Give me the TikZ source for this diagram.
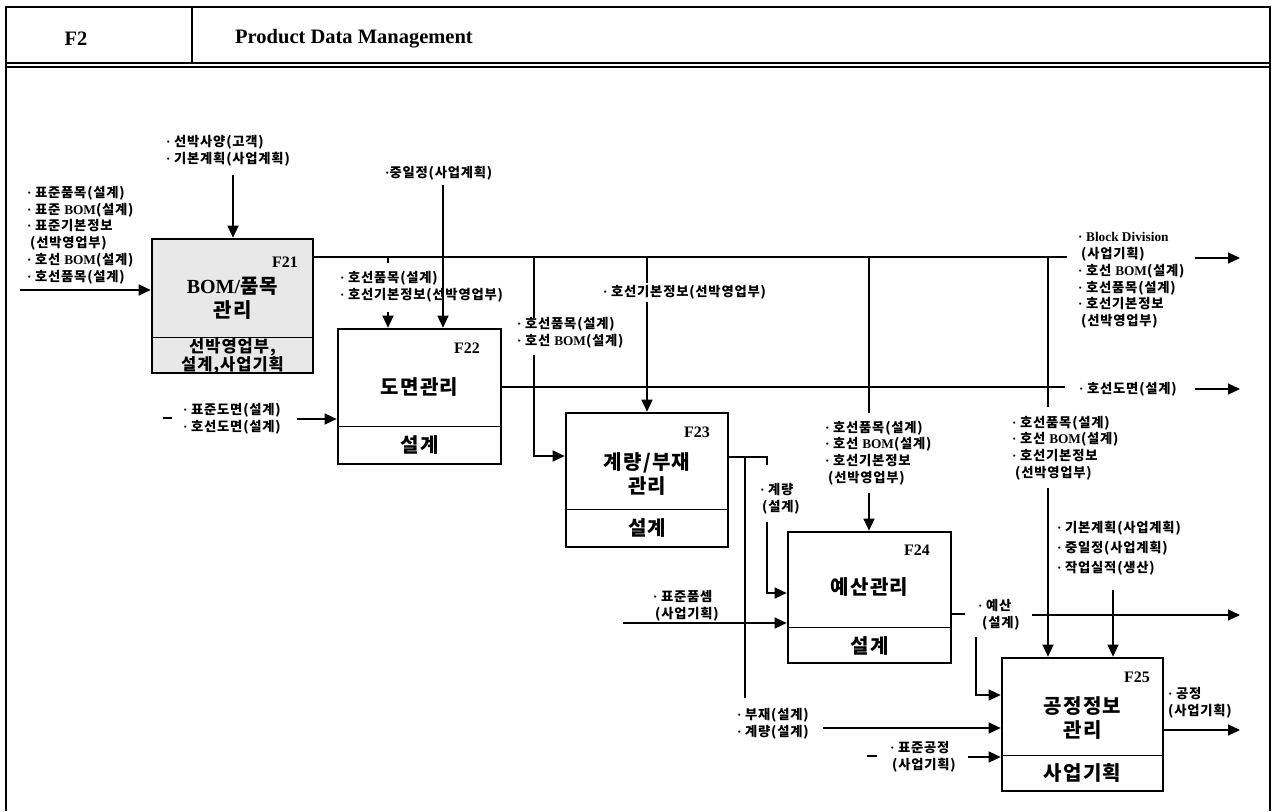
\documentclass[tikz,border=0pt]{standalone}
\usepackage{fontspec}
\setmainfont{Liberation Serif}
\newfontfamily\kr{Noto Sans CJK KR}[LetterSpace=6]
\usetikzlibrary{arrows.meta}
\newcommand\lat[1]{{\rmfamily\bfseries #1}}
\newcommand\bul{{\rmfamily\bfseries\char"00B7}\hspace{3.5pt}}
\tikzset{
  frameln/.style={line width=2.4pt},
  conn/.style={line width=1.2pt},
  arr/.style={conn,-{Triangle[length=12pt,width=11pt]}},
  box/.style={draw, line width=2.6pt, inner sep=0pt},
  divln/.style={line width=1.6pt},
  lbl/.style={font=\kr\bfseries\fontsize{13.3}{16.8}\selectfont, align=left, inner sep=0pt, anchor=west},
  ttl/.style={font=\kr\bfseries\fontsize{20}{24}\selectfont, align=center, inner sep=0pt},
  sub/.style={font=\kr\bfseries\fontsize{16.5}{18}\selectfont, align=center, inner sep=0pt},
  fid/.style={font=\rmfamily\bfseries\fontsize{16}{18}\selectfont, inner sep=0pt, anchor=east},
  hdr/.style={font=\rmfamily\bfseries\fontsize{20.5}{22}\selectfont, inner sep=0pt},
}
\begin{document}
\begin{tikzpicture}[x=1pt,y=-1pt]
\useasboundingbox (0,0) rectangle (1276,811);
\fill[white] (0,0) rectangle (1276,811);
% frame
\draw[frameln] (6,811) -- (6,7) -- (1270,7) -- (1270,811);
\draw[line width=1.2pt] (6,63) -- (1270,63);
\draw[line width=2.2pt] (6,67) -- (1270,67);
\draw[line width=1.2pt] (192,7) -- (192,63);
\node[hdr] (hf2) at (76,39) {F2};
\node[hdr, anchor=west] (hpdm) at (235,39) {Product Data Management};

% boxes
\node[box, fill=black!9, minimum width=161pt, minimum height=134pt] (f21) at (232.5,306) {};
\node[box, minimum width=163pt, minimum height=135pt] (f22) at (419.5,396.5) {};
\node[box, minimum width=162pt, minimum height=134pt] (f23) at (647,480) {};
\node[box, minimum width=163pt, minimum height=131pt] (f24) at (869.5,597.5) {};
\node[box, minimum width=161pt, minimum height=133pt] (f25) at (1082.5,724.5) {};
\draw[divln] ([yshift=37pt]f21.south west) -- ([yshift=37pt]f21.south east);
\draw[divln] ([yshift=39pt]f22.south west) -- ([yshift=39pt]f22.south east);
\draw[divln] ([yshift=39pt]f23.south west) -- ([yshift=39pt]f23.south east);
\draw[divln] ([yshift=37pt]f24.south west) -- ([yshift=37pt]f24.south east);
\draw[divln] ([yshift=37pt]f25.south west) -- ([yshift=37pt]f25.south east);

% box texts
\node[fid] (t21id) at (298,262) {F21};
\node[ttl] (t21) at (232.5,298) {\lat{BOM/}품목\\관리};
\node[sub] (t21s) at (232.5,356) {선박영업부,\\설계,사업기획};
\node[fid] (t22id) at (480,348) {F22};
\node[ttl] (t22) at (419.5,387) {도면관리};
\node[ttl] (t22s) at (419.5,445) {설계};
\node[fid] (t23id) at (710,432) {F23};
\node[ttl] (t23) at (647,474.5) {계량/부재\\관리};
\node[ttl] (t23s) at (647,528) {설계};
\node[fid] (t24id) at (930,550) {F24};
\node[ttl] (t24) at (869.5,587) {예산관리};
\node[ttl] (t24s) at (869.5,646) {설계};
\node[fid] (t25id) at (1150,677) {F25};
\node[ttl] (t25) at (1082.5,718) {공정정보\\관리};
\node[ttl] (t25s) at (1082.5,773) {사업기획};

% labels
\node[lbl] (l1) at (166,150.5) {\bul 선박사양(고객)\\\bul 기본계획(사업계획)};
\node[lbl] (l2) at (27,235) {\bul 표준품목(설계)\\\bul 표준 \lat{BOM}(설계)\\\bul 표준기본정보\\\hspace*{3pt}(선박영업부)\\\bul 호선 \lat{BOM}(설계)\\\bul 호선품목(설계)};
\node[lbl] (l3) at (1078,280.5) {\bul \lat{Block Division}\\\hspace*{3pt}(사업기획)\\\bul 호선 \lat{BOM}(설계)\\\bul 호선품목(설계)\\\bul 호선기본정보\\\hspace*{3pt}(선박영업부)};
\node[lbl] (l4) at (1079,389) {\bul 호선도면(설계)};
\node[lbl] (l5) at (385,173) {{\rmfamily\bfseries\char"00B7}중일정(사업계획)};
\node[lbl] (l6) at (340,287) {\bul 호선품목(설계)\\\bul 호선기본정보(선박영업부)};
\node[lbl] (l7) at (517,333) {\bul 호선품목(설계)\\\bul 호선 \lat{BOM}(설계)};
\node[lbl] (l8) at (603,292) {\bul 호선기본정보(선박영업부)};
\node[lbl] (l9) at (183,419) {\bul 표준도면(설계)\\\bul 호선도면(설계)};
\node[lbl] (l10) at (825,453) {\bul 호선품목(설계)\\\bul 호선 \lat{BOM}(설계)\\\bul 호선기본정보\\\hspace*{3pt}(선박영업부)};
\node[lbl] (l11) at (1012,448) {\bul 호선품목(설계)\\\bul 호선 \lat{BOM}(설계)\\\bul 호선기본정보\\\hspace*{3pt}(선박영업부)};
\node[lbl, font=\kr\bfseries\fontsize{13.3}{20}\selectfont] (l12) at (1057,548) {\bul 기본계획(사업계획)\\\bul 중일정(사업계획)\\\bul 작업실적(생산)};
\node[lbl] (l13) at (760,498.5) {\bul 계량\\\hspace*{2pt}(설계)};
\node[lbl] (l14) at (653,606) {\bul 표준품셈\\\hspace*{2pt}(사업기획)};
\node[lbl] (l15) at (978,615) {\bul 예산\\\hspace*{4pt}(설계)};
\node[lbl] (l16) at (737,723.5) {\bul 부재(설계)\\\bul 계량(설계)};
\node[lbl] (l17) at (890,756.5) {\bul 표준공정\\\hspace*{2pt}(사업기획)};
\node[lbl] (l18) at (1168,703) {\bul 공정\\(사업기획)};

% F21 inputs
\coordinate (c21t) at (233,175);
\draw[arr] (c21t) -- (c21t |- f21.north);
\coordinate (c21l) at (20,290);
\draw[arr] (c21l) -- (c21l -| f21.west);
% F21 output trunk
\coordinate (m21) at (1067,257);
\draw[conn] (f21.east |- m21) -- (m21);
\coordinate (o21a) at (1195,258); \coordinate (o21b) at (1240,258);
\draw[arr] (o21a) -- (o21b);
% branches
\coordinate (b1) at (388,257); \coordinate (b1e) at (388,263);
\draw[conn] (b1) -- (b1e);
\coordinate (b1s) at (388,312);
\draw[arr] (b1s) -- (b1s |- f22.north);
\coordinate (c22t) at (443,185);
\draw[arr] (c22t) -- (c22t |- f22.north);
\coordinate (b2) at (534,257); \coordinate (b2e) at (534,318);
\draw[conn] (b2) -- (b2e);
\coordinate (b2s) at (534,355); \coordinate (b2k) at (534,456);
\draw[arr] (b2s) -- (b2k) -- (b2k -| f23.west);
\coordinate (b3) at (647,257); \coordinate (b3e) at (647,283);
\draw[conn] (b3) -- (b3e);
\coordinate (b3s) at (647,302);
\draw[arr] (b3s) -- (b3s |- f23.north);
\coordinate (b4) at (869,257); \coordinate (b4e) at (869,413);
\draw[conn] (b4) -- (b4e);
\coordinate (b4s) at (869,493);
\draw[arr] (b4s) -- (b4s |- f24.north);
\coordinate (b5) at (1048,257); \coordinate (b5e) at (1048,407);
\draw[conn] (b5) -- (b5e);
\coordinate (b5s) at (1048,488);
\draw[arr] (b5s) -- (b5s |- f25.north);
% F22
\coordinate (m22) at (1065,387);
\draw[conn] (f22.east |- m22) -- (m22);
\coordinate (o22a) at (1195,389); \coordinate (o22b) at (1240,389);
\draw[arr] (o22a) -- (o22b);
\coordinate (d22a) at (163,418); \coordinate (d22b) at (172,418);
\draw[conn] (d22a) -- (d22b);
\coordinate (c22l) at (297,419);
\draw[arr] (c22l) -- (c22l -| f22.west);
% F23
\coordinate (k23) at (767,457); \coordinate (k23e) at (767,465);
\draw[conn] (f23.east |- k23) -- (k23) -- (k23e);
\coordinate (j23) at (745,457); \coordinate (j23e) at (745,698);
\draw[conn] (j23) -- (j23e);
\coordinate (k23s) at (767,522); \coordinate (k23k) at (767,593);
\draw[arr] (k23s) -- (k23k) -- (k23k -| f24.west);
\coordinate (c25m) at (823,728);
\draw[arr] (c25m) -- (c25m -| f25.west);
% F24
\coordinate (c24l) at (623,623);
\draw[arr] (c24l) -- (c24l -| f24.west);
\coordinate (m24) at (965,614);
\draw[conn] (f24.east |- m24) -- (m24);
\coordinate (o24a) at (1032,615); \coordinate (o24b) at (1240,615);
\draw[arr] (o24a) -- (o24b);
\coordinate (e24s) at (976,637); \coordinate (e24k) at (976,695);
\draw[arr] (e24s) -- (e24k) -- (e24k -| f25.west);
% F25
\coordinate (c25t) at (1113,590);
\draw[arr] (c25t) -- (c25t |- f25.north);
\coordinate (d25a) at (867,756); \coordinate (d25b) at (877,756);
\draw[conn] (d25a) -- (d25b);
\coordinate (c25l) at (968,757);
\draw[arr] (c25l) -- (c25l -| f25.west);
\coordinate (o25) at (1240,730);
\draw[arr] (f25.east |- o25) -- (o25);
\end{tikzpicture}
\end{document}
